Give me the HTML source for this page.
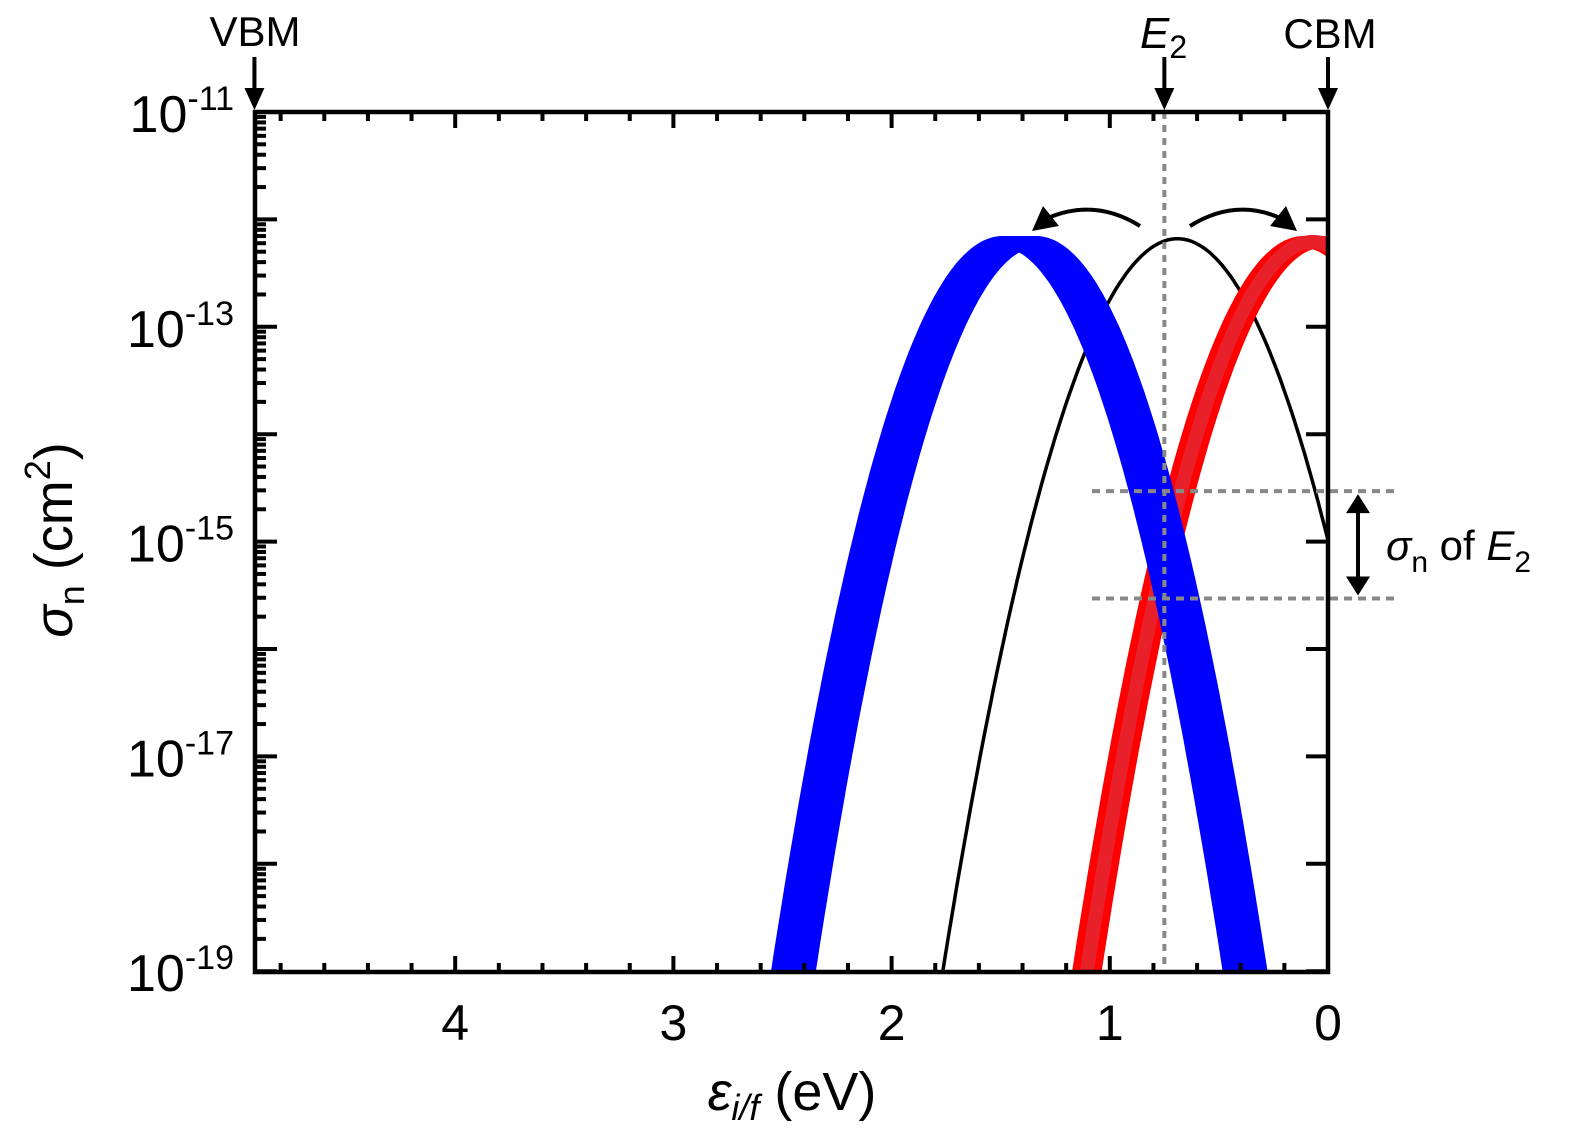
<!DOCTYPE html>
<html><head><meta charset="utf-8"><style>
html,body{margin:0;padding:0;background:#fff;overflow:hidden;width:1575px;height:1146px;}
svg{display:block;font-family:"Liberation Sans",Arial,sans-serif;}
</style></head><body>
<svg id="chart" width="1575" height="1146" viewBox="0 0 1575 1146" xmlns="http://www.w3.org/2000/svg">
<defs><clipPath id="plotclip"><rect x="255" y="112" width="1073" height="860"/></clipPath></defs>
<g id="curves" clip-path="url(#plotclip)"></g>
<g id="axes"></g>
</svg>
<script>
// data
const xTicks = [4, 3, 2, 1, 0];
const yDecades = [-11, -13, -15, -17, -19];
const blueCenters = [1.49, 1.46, 1.43, 1.40, 1.37, 1.34];
const redCenters = [0.11, 0.07, 0.03];
const blackCenters = [0.69];
const peakLog = [-12.21, -12.21, -12.18];
const halfWidth = [1.035, 1.035, 1.073];
const E2 = 0.75;
const sigmaBand = [-14.53, -15.53];

const NS = "http://www.w3.org/2000/svg";
const X = e => 1328 - e * 218.2;
const Y = l => 112 + (-11 - l) * 107.4;
const curves = document.getElementById('curves');
const axes = document.getElementById('axes');
function mk(tag, attrs, parent) {
  const el = document.createElementNS(NS, tag);
  for (const k in attrs) el.setAttribute(k, attrs[k]);
  parent.appendChild(el);
  return el;
}
function curvePath(c, pk, hw) {
  let d = "";
  for (let e = c - hw * 1.3; e <= c + hw * 1.3; e += 0.01) {
    const l = pk - 6.79 * Math.pow((e - c) / hw, 2);
    d += (d ? "L" : "M") + X(e).toFixed(1) + "," + Y(l).toFixed(1);
  }
  return d;
}
// black
blackCenters.forEach(c => {
  const p = mk('path', {d: curvePath(c, peakLog[2], halfWidth[2]), fill: 'none', stroke: '#000', 'stroke-width': 3.5}, curves);
  
  
});
// red
redCenters.forEach(c => {
  const p = mk('path', {d: curvePath(c, peakLog[1], halfWidth[1]), fill: 'none', stroke: '#ff0000', 'stroke-width': 12}, curves);
  
  
});
const rc = mk('path', {d: curvePath(redCenters[1], peakLog[1], halfWidth[1]), fill: 'none', stroke: '#e8202a', 'stroke-width': 14}, curves);


// blue
blueCenters.forEach(c => {
  const p = mk('path', {d: curvePath(c, peakLog[0], halfWidth[0]), fill: 'none', stroke: '#0000ff', 'stroke-width': 12}, curves);
  
  
});
// dotted guides
let g = mk('line', {x1: X(E2), x2: X(E2), y1: 112, y2: 972, stroke: '#888', 'stroke-width': 4, 'stroke-dasharray': '7,6'}, axes);


sigmaBand.forEach(l => {
  const h = mk('line', {x1: 1092, x2: 1400, y1: Y(l), y2: Y(l), stroke: '#888', 'stroke-width': 4, 'stroke-dasharray': '8,6'}, axes);
  
  
});
// frame
const fr = mk('rect', {x: 255, y: 112, width: 1073, height: 860, fill: 'none', stroke: '#000', 'stroke-width': 4.5}, axes);


// x ticks
for (let i = 0; i <= 24; i++) {
  const e = i * 0.2;
  const major = i % 5 === 0;
  const len = major ? 16 : 9;
  const x = X(e);
  const t1 = mk('line', {x1: x, x2: x, y1: 972, y2: 972 - len, stroke: '#000', 'stroke-width': 4}, axes);
  
  
  const t2 = mk('line', {x1: x, x2: x, y1: 112, y2: 112 + len, stroke: '#000', 'stroke-width': 4}, axes);
  
  
}
xTicks.forEach(v => {
  const t = mk('text', {x: X(v), y: 1040, 'font-size': 50, 'text-anchor': 'middle'}, axes);
  t.textContent = v;
  
  
});
// y ticks
for (let d = -19; d <= -11; d++) {
  const y = Y(d);
  const t = mk('line', {x1: 255, x2: 277, y1: y, y2: y, stroke: '#000', 'stroke-width': 4}, axes);
  
  
  const r = mk('line', {x1: 1328, x2: 1306, y1: y, y2: y, stroke: '#000', 'stroke-width': 4}, axes);
  
  
  if (d < -11) {
    for (let m = 2; m <= 9; m++) {
      const ym = Y(d + Math.log10(m));
      const mt = mk('line', {x1: 255, x2: 266, y1: ym, y2: ym, stroke: '#000', 'stroke-width': 4}, axes);
      
      
    }
  }
}
yDecades.forEach(d => {
  const t = mk('text', {x: 234, y: Y(d) + 20, 'font-size': 52, 'text-anchor': 'end'}, axes);
  const a = mk('tspan', {}, t); a.textContent = '10';
  const b = mk('tspan', {dy: -22, 'font-size': 34}, t); b.textContent = '-' + Math.abs(d);
  
  
});
// axis titles
const yt = mk('text', {x: 0, y: 0, 'font-size': 54, 'text-anchor': 'middle', transform: 'translate(72,540) rotate(-90)'}, axes);


let s = mk('tspan', {'font-style': 'italic'}, yt); s.textContent = 'σ';
s = mk('tspan', {dy: 12, 'font-size': 36}, yt); s.textContent = 'n';
s = mk('tspan', {dy: -12}, yt); s.textContent = ' (cm';
s = mk('tspan', {dy: -22, 'font-size': 36}, yt); s.textContent = '2';
s = mk('tspan', {dy: 22}, yt); s.textContent = ')';
const xt = mk('text', {x: 792, y: 1110, 'font-size': 54, 'text-anchor': 'middle'}, axes);


s = mk('tspan', {'font-style': 'italic'}, xt); s.textContent = 'ε';
s = mk('tspan', {dy: 10, 'font-size': 36, 'font-style': 'italic'}, xt); s.textContent = 'i/f';
s = mk('tspan', {dy: -10}, xt); s.textContent = ' (eV)';
// top markers
function downArrow(x, name) {
  const l = mk('line', {x1: x, x2: x, y1: 57, y2: 92, stroke: '#000', 'stroke-width': 4}, axes);
  
  
  const p = mk('polygon', {points: `${x-10},88 ${x+10},88 ${x},110`, fill: '#000'}, axes);
  
  
}
downArrow(X(4.92), 'vbm');
downArrow(X(E2), 'e2');
downArrow(X(0), 'cbm');
let tl = mk('text', {x: 255, y: 46, 'font-size': 42, 'text-anchor': 'middle'}, axes);
tl.textContent = 'VBM';  
tl = mk('text', {x: 1330, y: 48, 'font-size': 42, 'text-anchor': 'middle'}, axes);
tl.textContent = 'CBM';  
tl = mk('text', {x: 1140, y: 48, 'font-size': 44}, axes);
 
s = mk('tspan', {'font-style': 'italic'}, tl); s.textContent = 'E';
s = mk('tspan', {dy: 10, 'font-size': 32}, tl); s.textContent = '2';
// curved arrows
let ca = mk('path', {d: 'M1140,226 Q1095,198 1048,218', fill: 'none', stroke: '#000', 'stroke-width': 4}, axes);
 
ca = mk('polygon', {points: '1032,231 1043,206 1059,226', fill: '#000'}, axes);
 
ca = mk('path', {d: 'M1190,226 Q1235,198 1280,218', fill: 'none', stroke: '#000', 'stroke-width': 4}, axes);
 
ca = mk('polygon', {points: '1297,231 1286,206 1270,226', fill: '#000'}, axes);
 
// double arrow
const yA = Y(sigmaBand[0]), yB = Y(sigmaBand[1]);
let da = mk('line', {x1: 1358, x2: 1358, y1: yA + 18, y2: yB - 18, stroke: '#000', 'stroke-width': 4}, axes);
 
da = mk('polygon', {points: `1346,${yA+22} 1370,${yA+22} 1358,${yA+3}`, fill: '#000'}, axes);
 
da = mk('polygon', {points: `1346,${yB-22} 1370,${yB-22} 1358,${yB-3}`, fill: '#000'}, axes);
 
const sl = mk('text', {x: 1386, y: 560, 'font-size': 42}, axes);
 
s = mk('tspan', {'font-style': 'italic'}, sl); s.textContent = 'σ';
s = mk('tspan', {dy: 12, 'font-size': 30}, sl); s.textContent = 'n';
s = mk('tspan', {dy: -12}, sl); s.textContent = ' of ';
s = mk('tspan', {'font-style': 'italic'}, sl); s.textContent = 'E';
s = mk('tspan', {dy: 12, 'font-size': 30}, sl); s.textContent = '2';
</script>
</body></html>
